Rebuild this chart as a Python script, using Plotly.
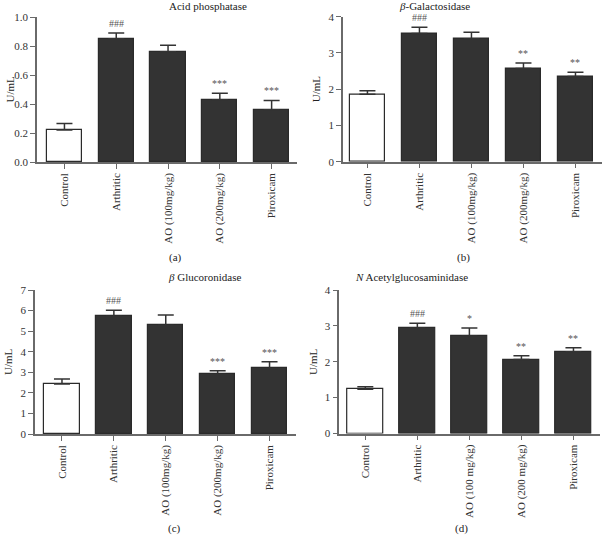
import plotly.graph_objects as go

groups = ["Control", "Arthritic", "AO (100mg/kg)", "AO (200mg/kg)", "Piroxicam"]
groups_d = ["Control", "Arthritic", "AO (100 mg/kg)", "AO (200 mg/kg)", "Piroxicam"]

acid_mean = [0.22, 0.85, 0.76, 0.43, 0.36]
acid_err = [0.045, 0.04, 0.045, 0.045, 0.065]
acid_sig = ["", "###", "", "***", "***"]

gal_mean = [1.86, 3.54, 3.39, 2.57, 2.35]
gal_err = [0.10, 0.17, 0.18, 0.15, 0.12]
gal_sig = ["", "###", "", "**", "**"]

glu_mean = [2.43, 5.73, 5.29, 2.91, 3.19]
glu_err = [0.24, 0.29, 0.49, 0.16, 0.32]
glu_sig = ["", "###", "", "***", "***"]

nag_mean = [1.23, 2.94, 2.72, 2.06, 2.28]
nag_err = [0.07, 0.13, 0.22, 0.11, 0.11]
nag_sig = ["", "###", "*", "**", "**"]

W, H = 602, 536
FONT = "Liberation Serif"
AXIS = "#6a6a6a"


def px_x(v):
    return v / W


def px_y(v):
    return 1 - v / H


# panel definitions: data, labels, pixel boxes (left, right, top, bottom), y range, title, letter
panels = [
    dict(mean=acid_mean, err=acid_err, sig=acid_sig, cats=groups,
         box=(37, 297, 17, 162), yr=[0, 1.0], dtick=0.2, fmt=".1f",
         xr=[-0.53, 4.49], title="Acid phosphatase", letter="(a)", lab_y=257, tit_y=6),
    dict(mean=gal_mean, err=gal_err, sig=gal_sig, cats=groups,
         box=(343, 602, 16.7, 161.7), yr=[0, 4], dtick=1, fmt="d",
         xr=[-0.47, 4.51], title="<i>β</i>-Galactosidase", letter="(b)", lab_y=257, tit_y=6),
    dict(mean=glu_mean, err=glu_err, sig=glu_sig, cats=groups,
         box=(35, 296, 290, 434), yr=[0, 7], dtick=1, fmt="d",
         xr=[-0.52, 4.51], title="<i>β</i> Glucoronidase", letter="(c)", lab_y=528, tit_y=277),
    dict(mean=nag_mean, err=nag_err, sig=nag_sig, cats=groups_d,
         box=(339.3, 600, 290, 433.5), yr=[0, 4], dtick=1, fmt="d",
         xr=[-0.50, 4.51], title="<i>N</i> Acetylglucosaminidase", letter="(d)", lab_y=528, tit_y=277),
]

fig = go.Figure()
annotations = []

for i, p in enumerate(panels, start=1):
    xa = "x" if i == 1 else f"x{i}"
    ya = "y" if i == 1 else f"y{i}"
    colors = ["white"] + ["#333333"] * 4
    xs = list(range(len(p["cats"])))
    fig.add_trace(go.Bar(
        x=xs, y=p["mean"], xaxis=xa, yaxis=ya, width=0.68,
        marker=dict(color=colors, line=dict(color="#2a2a2a", width=1.2)),
        error_y=dict(type="data", symmetric=False, array=p["err"],
                     arrayminus=[0] * len(p["err"]), color="#333333",
                     thickness=1.5, width=8),
        showlegend=False, hoverinfo="skip",
    ))
    left, right, top, bottom = p["box"]
    suffix = "" if i == 1 else str(i)
    fig.update_layout(**{
        f"xaxis{suffix}": dict(
            domain=[px_x(left), min(px_x(right), 1)], range=p["xr"], anchor=ya,
            tickmode="array", tickvals=xs, ticktext=p["cats"], tickangle=-90,
            showline=True, linecolor=AXIS, linewidth=1.5,
            ticks="outside", ticklen=5, tickcolor=AXIS, tickwidth=1.3,
            showgrid=False, zeroline=False, automargin=False,
            tickfont=dict(family=FONT, size=11, color="#333"),
        ),
        f"yaxis{suffix}": dict(
            domain=[px_y(bottom), px_y(top)], range=p["yr"], anchor=xa,
            dtick=p["dtick"], tick0=0, tickformat=p["fmt"],
            showline=True, linecolor=AXIS, linewidth=1.5,
            ticks="outside", ticklen=5, tickcolor=AXIS, tickwidth=1.3,
            showgrid=False, zeroline=False, automargin=False,
            tickfont=dict(family=FONT, size=11, color="#333"),
        ),
    })
    cx = px_x((left + right) / 2)
    annotations.append(dict(text=p["title"], x=cx, y=px_y(p["tit_y"]), xref="paper", yref="paper",
                            showarrow=False, yanchor="middle",
                            font=dict(family=FONT, size=11, color="#222")))
    annotations.append(dict(text=p["letter"], x=cx, y=px_y(p["lab_y"]), xref="paper", yref="paper",
                            showarrow=False, yanchor="middle",
                            font=dict(family=FONT, size=11, color="#222")))
    annotations.append(dict(text="U/mL", x=px_x(left - 27), y=px_y((top + bottom) / 2),
                            xref="paper", yref="paper", showarrow=False, textangle=-90,
                            xanchor="center", yanchor="middle",
                            font=dict(family=FONT, size=11, color="#222")))
    for xi, m, e, s in zip(xs, p["mean"], p["err"], p["sig"]):
        if s:
            annotations.append(dict(text=s, x=xi, y=m + e, xref=xa, yref=ya,
                                    showarrow=False, yanchor="bottom", yshift=2,
                                    font=dict(family=FONT, size=10, color="#555")))

fig.update_layout(
    template="none",
    width=W, height=H, margin=dict(l=0, r=0, t=0, b=0, autoexpand=False),
    plot_bgcolor="white", paper_bgcolor="white",
    annotations=annotations, bargap=0,
)

# drop the default 8px body margin so the figure fills the window
fig.write_html("out.html", config={"displayModeBar": False},
               post_script="document.body.style.margin='0px';")
